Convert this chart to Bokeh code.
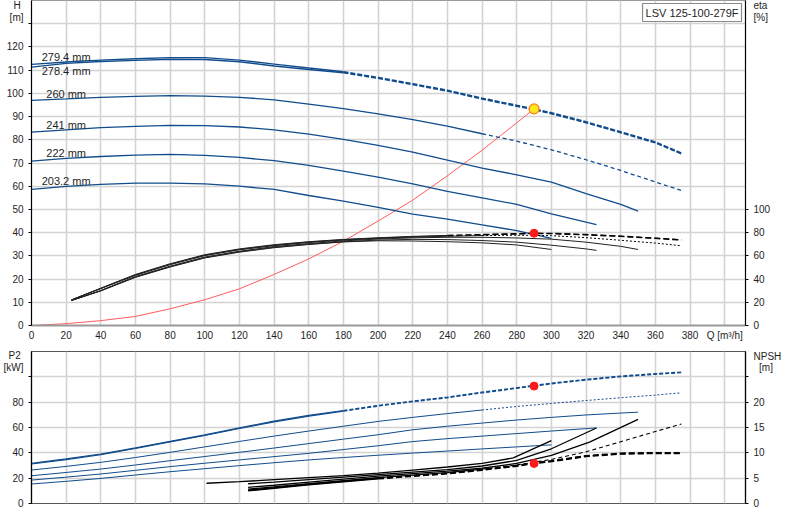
from bokeh.plotting import figure
from bokeh.models import Range1d, LinearAxis, FixedTicker, Label
from bokeh.layouts import column
from bokeh.embed import file_html
from bokeh.resources import INLINE
from bokeh.core.properties import value

# ---------------- data ----------------
title_text = "LSV 125-100-279F"
diam_labels = ["279.4 mm", "278.4 mm", "260 mm", "241 mm", "222 mm", "203.2 mm"]

# H-Q curves
q_h279 = [0, 20, 40, 60, 80, 100, 120, 140, 160, 180, 200, 220, 240, 260, 280, 290, 300, 320, 340, 360, 375]
h_279 = [112.5, 113.5, 114.3, 114.9, 115.4, 115.4, 114.3, 112.6, 110.9, 109.3, 106.8, 104.1, 101.3, 97.9, 94.8, 93.3, 91.6, 87.7, 83.4, 79.0, 74.3]
h_278 = [111.3, 112.9, 113.7, 114.2, 114.7, 114.6, 113.6, 111.8, 110.3, 108.9, 106.5, 103.8, 101.0, 97.6, 94.5, 93.0, 91.3, 87.4, 83.1, 78.7, 74.0]
q_h260 = [0, 20, 40, 60, 80, 100, 120, 140, 160, 180, 200, 220, 240, 260, 280, 300, 320, 340, 360, 375]
h_260 = [97.0, 97.6, 98.3, 98.7, 99.0, 98.8, 98.3, 97.2, 95.4, 93.4, 91.2, 88.7, 85.9, 82.6, 79.4, 75.7, 71.4, 66.8, 61.8, 58.2]
q_h241 = [0, 20, 40, 60, 80, 100, 120, 140, 160, 180, 200, 220, 240, 260, 280, 300, 320, 340, 350]
h_241 = [83.3, 84.3, 85.2, 85.8, 86.2, 86.1, 85.5, 84.3, 82.4, 80.2, 77.6, 74.7, 71.2, 67.8, 64.9, 61.8, 56.8, 52.2, 49.3]
q_h222 = [0, 20, 40, 60, 80, 100, 120, 140, 160, 180, 200, 220, 240, 260, 280, 300, 320, 326]
h_222 = [70.8, 72.0, 72.8, 73.4, 73.7, 73.3, 72.4, 71.0, 69.0, 66.5, 63.9, 61.0, 57.8, 55.0, 52.2, 48.1, 44.5, 43.5]
q_h203 = [0, 20, 40, 60, 80, 100, 120, 140, 160, 180, 200, 220, 240, 260, 280, 300]
h_203 = [58.6, 59.9, 60.8, 61.3, 61.3, 61.0, 60.0, 58.6, 56.0, 53.6, 50.9, 48.0, 45.8, 43.3, 40.9, 37.5]

# efficiency curves [%]
q_e279 = [23, 40, 60, 80, 100, 120, 140, 160, 180, 200, 220, 240, 260, 280, 290, 300, 320, 340, 360, 375]
eta_279 = [22.0, 32.2, 44.0, 53.2, 61.0, 66.0, 69.6, 72.2, 74.2, 75.6, 76.8, 77.6, 78.4, 79.1, 79.5, 79.4, 78.4, 77.0, 75.3, 73.9]
eta_278 = [22.0, 32.0, 43.6, 52.8, 60.6, 65.6, 69.2, 71.9, 73.9, 75.3, 76.5, 77.3, 78.1, 78.8, 79.2, 79.1, 78.1, 76.7, 75.0, 73.6]
q_e260 = [23, 40, 60, 80, 100, 120, 140, 160, 180, 200, 220, 240, 260, 280, 300, 320, 340, 360, 375]
eta_260 = [22.0, 31.8, 43.2, 52.4, 60.2, 65.2, 68.8, 71.5, 73.6, 75.0, 76.1, 76.9, 77.5, 77.8, 77.4, 75.7, 73.4, 71.0, 68.7]
q_e241 = [23, 40, 60, 80, 100, 120, 140, 160, 180, 200, 220, 240, 260, 280, 300, 320, 340, 350]
eta_241 = [21.5, 30.2, 42.2, 51.1, 59.0, 64.0, 68.0, 70.6, 72.9, 74.5, 75.5, 76.0, 76.0, 75.4, 74.4, 71.8, 68.2, 65.5]
q_e222 = [23, 40, 60, 80, 100, 120, 140, 160, 180, 200, 220, 240, 260, 280, 300, 320, 326]
eta_222 = [21.5, 30.0, 41.8, 50.7, 58.5, 63.6, 67.4, 70.0, 72.2, 73.6, 74.2, 74.0, 73.2, 71.8, 69.2, 66.0, 64.7]
q_e203 = [23, 40, 60, 80, 100, 120, 140, 160, 180, 200, 220, 240, 260, 280, 300]
eta_203 = [21.5, 29.8, 41.5, 50.4, 58.2, 63.2, 67.0, 69.8, 72.0, 73.0, 72.8, 72.2, 71.2, 69.4, 65.5]

# system curve
q_sys = [0, 20, 40, 60, 80, 100, 120, 140, 160, 180, 200, 220, 240, 260, 280, 290]
h_sys = [0, 0.8, 2.1, 3.9, 7.2, 11.1, 15.8, 22.0, 28.7, 36.3, 45.0, 54.0, 64.5, 75.5, 87.3, 93.3]

# P2 curves [kW]
q_p279 = [0, 20, 40, 60, 80, 100, 120, 140, 160, 180, 200, 220, 240, 260, 280, 300, 320, 340, 360, 375]
p2_279 = [31.7, 35.2, 39.1, 43.9, 49.1, 54.2, 59.7, 65.0, 69.5, 73.4, 77.4, 80.9, 84.0, 87.9, 91.4, 95.0, 98.0, 100.6, 102.5, 103.8]
p2_278 = [31.2, 34.7, 38.6, 43.4, 48.6, 53.7, 59.2, 64.5, 69.0, 72.9, 76.9, 80.4, 83.5, 87.4, 90.9, 94.5, 97.5, 100.1, 102.0, 103.3]
q_p260 = [0, 20, 40, 60, 80, 100, 120, 140, 160, 180, 200, 220, 240, 260, 280, 300, 320, 340, 360, 375]
p2_260 = [26.4, 29.3, 32.5, 36.3, 40.4, 44.7, 49.0, 53.2, 57.2, 61.0, 64.8, 68.0, 71.0, 73.8, 76.6, 79.0, 81.3, 83.5, 85.6, 87.4]
q_p241 = [0, 20, 40, 60, 80, 100, 120, 140, 160, 180, 200, 220, 240, 260, 280, 300, 320, 340, 350]
p2_241 = [21.9, 24.5, 27.2, 30.4, 33.8, 37.1, 40.4, 43.8, 47.3, 50.8, 54.3, 58.2, 61.0, 63.5, 65.9, 68.0, 69.9, 71.4, 72.1]
q_p222 = [0, 20, 40, 60, 80, 100, 120, 140, 160, 180, 200, 220, 240, 260, 280, 300, 320, 326]
p2_222 = [18.5, 20.8, 23.3, 26.2, 29.1, 31.8, 34.4, 37.0, 39.6, 42.6, 45.6, 48.9, 51.2, 53.2, 55.2, 57.2, 59.1, 59.7]
q_p203 = [0, 20, 40, 60, 80, 100, 120, 140, 160, 180, 200, 220, 240, 260, 280, 300]
p2_203 = [15.4, 17.5, 19.8, 22.5, 25.1, 27.5, 29.9, 32.2, 34.4, 36.3, 38.1, 39.8, 41.4, 43.1, 44.7, 46.3]

# NPSH curves [m]
q_n279 = [125, 140, 160, 180, 200, 220, 240, 260, 280, 290, 300, 320, 340, 360, 375]
npsh_279 = [2.5, 3.0, 3.7, 4.3, 4.9, 5.4, 5.9, 6.6, 7.4, 7.9, 8.3, 9.3, 9.8, 9.9, 9.9]
npsh_278 = [2.6, 3.1, 3.8, 4.4, 5.0, 5.5, 6.0, 6.7, 7.5, 8.0, 8.4, 9.4, 9.9, 10.0, 10.0]
q_n260 = [125, 140, 160, 180, 200, 220, 240, 260, 280, 300, 320, 340, 360, 375]
npsh_260 = [2.85, 3.3, 3.9, 4.5, 5.1, 5.6, 6.1, 6.8, 7.6, 8.7, 10.2, 12.2, 14.2, 15.7]
q_n241 = [125, 140, 160, 180, 200, 220, 240, 260, 280, 300, 322, 350]
npsh_241 = [3.2, 3.6, 4.2, 4.8, 5.4, 5.9, 6.4, 7.0, 7.9, 9.5, 12.1, 16.6]
q_n222 = [125, 140, 160, 180, 200, 220, 240, 260, 280, 300, 326]
npsh_222 = [3.9, 4.2, 4.7, 5.2, 5.7, 6.2, 6.7, 7.4, 8.5, 10.8, 14.9]
q_n203 = [101, 120, 140, 160, 180, 200, 220, 240, 260, 278, 300]
npsh_203 = [4.0, 4.3, 4.7, 5.1, 5.5, 6.0, 6.6, 7.2, 7.9, 9.0, 12.4]

# duty point
duty_q = 290
duty_h = 93.3
duty_eta = 79.5
duty_p2 = 92.7
duty_npsh = 7.9

# axis tick values
h_ticks = list(range(0, 121, 10))
h_marks = list(range(0, 131, 10))
eta_ticks = [0, 20, 40, 60, 80, 100]
p2_ticks = [0, 20, 40, 60, 80]
p2_marks = [0, 20, 40, 60, 80, 100]
npsh_ticks = [0, 5, 10, 15, 20]
npsh_marks = [0, 5, 10, 15, 20, 25]
q_ticks = list(range(0, 401, 20))

# ---------------- styling ----------------
FONT = "Liberation Sans"
BLUE = "#114c8c"
GRID = "#d3d3d3"
TXT = "#1e1e1e"
QMAX = 412
FIG_W = 784


def seg(qs, vs, lo, hi):
    pts = [(q, v) for q, v in zip(qs, vs) if lo <= q <= hi]
    return [p[0] for p in pts], [p[1] for p in pts]


def style_axis(ax, color="black"):
    ax.axis_line_color = color
    ax.axis_line_width = 1.2
    ax.major_tick_line_color = None
    ax.major_tick_out = 0
    ax.major_tick_in = 0
    ax.minor_tick_line_color = color
    ax.minor_tick_out = 3
    ax.minor_tick_in = 0
    ax.major_label_standoff = 5
    ax.major_label_text_font = FONT
    ax.major_label_text_font_size = "10px"
    ax.major_label_text_color = TXT


def unit_ticker(ticks, marks, unit_pos):
    # tick labels for values plus the two unit captions at the top of the axis
    return FixedTicker(ticks=ticks + list(unit_pos.keys()), minor_ticks=marks)


# ---------------- top chart ----------------
top = figure(width=FIG_W, height=347, x_range=Range1d(0, QMAX), y_range=Range1d(0, 140),
             output_backend="svg", toolbar_location=None,
             min_border_left=25, min_border_right=33, min_border_top=0, min_border_bottom=22)
top.extra_y_ranges = {"eta": Range1d(0, 280)}
top.outline_line_color = "#9a9a9a"

xt = FixedTicker(ticks=q_ticks)
top.xaxis.ticker = xt
top.xaxis.major_label_overrides = {400: "Q [m³/h]"}
style_axis(top.xaxis[0], color="#999999")
top.xaxis[0].minor_tick_out = 0
top.xaxis[0].major_label_standoff = 4
top.xaxis[0].axis_line_width = 2

h_units = {137.9: "H\u00a0", 132.8: "[m]"}
top.yaxis.ticker = unit_ticker(h_ticks, h_marks, h_units)
top.yaxis.major_label_overrides = h_units
style_axis(top.yaxis[0])
top.xgrid.ticker = xt
top.ygrid.ticker = FixedTicker(ticks=h_marks)
for g in (top.xgrid[0], top.ygrid[0]):
    g.grid_line_color = GRID
    g.grid_line_width = 1.6

eta_units = {275.9: "eta", 265.5: "[%]"}
eta_axis = LinearAxis(y_range_name="eta", ticker=unit_ticker(eta_ticks, eta_ticks, eta_units),
                      major_label_overrides=eta_units)
style_axis(eta_axis)
top.add_layout(eta_axis, "right")

# system curve
top.line(q_sys, h_sys, line_color="#ff5c5c", line_width=1)

# H curves
for hv in (h_279, h_278):
    xs, ys = seg(q_h279, hv, 0, 180)
    top.line(xs, ys, line_color=BLUE, line_width=1.4)
    xs, ys = seg(q_h279, hv, 180, 400)
    top.line(xs, ys, line_color=BLUE, line_width=1.7, line_dash="5 2")
xs, ys = seg(q_h260, h_260, 0, 260)
top.line(xs, ys, line_color=BLUE, line_width=1.3)
xs, ys = seg(q_h260, h_260, 260, 400)
top.line(xs, ys, line_color=BLUE, line_width=1.3, line_dash="4 3")
for qs, hv in ((q_h241, h_241), (q_h222, h_222), (q_h203, h_203)):
    top.line(qs, hv, line_color=BLUE, line_width=1.3)

# efficiency curves
for ev in (eta_279, eta_278):
    xs, ys = seg(q_e279, ev, 0, 240)
    top.line(xs, ys, line_color="#222222", line_width=1.0, y_range_name="eta")
    xs, ys = seg(q_e279, ev, 240, 400)
    top.line(xs, ys, line_color="black", line_width=1.3, line_dash="6 3", y_range_name="eta")
xs, ys = seg(q_e260, eta_260, 0, 260)
top.line(xs, ys, line_color="#222222", line_width=1.0, y_range_name="eta")
xs, ys = seg(q_e260, eta_260, 260, 400)
top.line(xs, ys, line_color="black", line_width=1.0, line_dash="2 2", y_range_name="eta")
for qs, ev in ((q_e241, eta_241), (q_e222, eta_222), (q_e203, eta_203)):
    top.line(qs, ev, line_color="#222222", line_width=1.0, y_range_name="eta")

# diameter labels
curves_at20 = [h_279[1], h_278[1], h_260[1], h_241[1], h_222[1], h_203[1]]
above = [i for i in range(6) if i != 1]
top.text(x=[20] * 5, y=[curves_at20[i] for i in above], text=[diam_labels[i] for i in above],
         text_align="center", text_baseline="alphabetic", y_offset=-5,
         text_font=value(FONT), text_font_size="11px", text_color=TXT)
top.text(x=[20], y=[curves_at20[1]], text=[diam_labels[1]],
         text_align="center", text_baseline="top", y_offset=2,
         text_font=value(FONT), text_font_size="11px", text_color=TXT)

# duty point markers
top.scatter([duty_q], [duty_eta], y_range_name="eta", size=8, fill_color="#ff1a1a", line_color="#ff1a1a")
top.scatter([duty_q], [duty_h], size=10, fill_color="#ffe81a", line_color="#ff7a1a", line_width=1.2)

# title box
top.add_layout(Label(x=QMAX, y=140, text=title_text, text_align="right", text_baseline="top",
                     x_offset=-4, y_offset=-3, padding=3, border_line_color="#8a8a8a",
                     border_line_width=1.2, background_fill_color="white",
                     text_font=FONT, text_font_size="11px", text_color=TXT))

# ---------------- bottom chart ----------------
bot = figure(width=FIG_W, height=163, x_range=top.x_range, y_range=Range1d(0, 120),
             output_backend="svg", toolbar_location=None,
             min_border_left=25, min_border_right=33, min_border_top=4, min_border_bottom=7)
bot.extra_y_ranges = {"npsh": Range1d(0, 30)}
bot.outline_line_color = "#555555"
bot.outline_line_width = 1.2
bot.xaxis.visible = False

p2_units = {116.6: "P2\u00a0", 107.1: "[kW]"}
bot.yaxis.ticker = unit_ticker(p2_ticks, p2_marks, p2_units)
bot.yaxis.major_label_overrides = p2_units
style_axis(bot.yaxis[0])
bot.xgrid.ticker = xt
bot.ygrid.ticker = FixedTicker(ticks=p2_marks)
for g in (bot.xgrid[0], bot.ygrid[0]):
    g.grid_line_color = GRID
    g.grid_line_width = 1.6

npsh_units = {28.95: "NPSH", 26.8: "\u00a0\u00a0[m]"}
npsh_axis = LinearAxis(y_range_name="npsh", ticker=unit_ticker(npsh_ticks, npsh_marks, npsh_units),
                       major_label_overrides=npsh_units)
style_axis(npsh_axis)
bot.add_layout(npsh_axis, "right")

# P2 curves
for pv in (p2_279, p2_278):
    xs, ys = seg(q_p279, pv, 0, 180)
    bot.line(xs, ys, line_color=BLUE, line_width=1.2)
    xs, ys = seg(q_p279, pv, 180, 400)
    bot.line(xs, ys, line_color=BLUE, line_width=1.3, line_dash="4 2")
xs, ys = seg(q_p260, p2_260, 0, 265)
bot.line(xs, ys, line_color=BLUE, line_width=1.0)
xs, ys = seg(q_p260, p2_260, 260, 400)
bot.line(xs, ys, line_color=BLUE, line_width=1.0, line_dash="2 2")
for qs, pv in ((q_p241, p2_241), (q_p222, p2_222), (q_p203, p2_203)):
    bot.line(qs, pv, line_color=BLUE, line_width=1.0)

# NPSH curves
for nv in (npsh_279, npsh_278):
    xs, ys = seg(q_n279, nv, 0, 200)
    bot.line(xs, ys, line_color="black", line_width=1.5, y_range_name="npsh")
    xs, ys = seg(q_n279, nv, 200, 400)
    bot.line(xs, ys, line_color="black", line_width=1.8, line_dash="6 3", y_range_name="npsh")
xs, ys = seg(q_n260, npsh_260, 0, 260)
bot.line(xs, ys, line_color="black", line_width=1.3, y_range_name="npsh")
xs, ys = seg(q_n260, npsh_260, 260, 400)
bot.line(xs, ys, line_color="black", line_width=1.1, line_dash="4 3", y_range_name="npsh")
for qs, nv in ((q_n241, npsh_241), (q_n222, npsh_222), (q_n203, npsh_203)):
    bot.line(qs, nv, line_color="black", line_width=1.3, y_range_name="npsh")

bot.scatter([duty_q], [duty_p2], size=8, fill_color="#ff1a1a", line_color="#ff1a1a")
bot.scatter([duty_q], [duty_npsh], y_range_name="npsh", size=8, fill_color="#ff1a1a", line_color="#ff1a1a")

layout = column(top, bot)
open("out.html", "w").write(file_html(layout, INLINE))
